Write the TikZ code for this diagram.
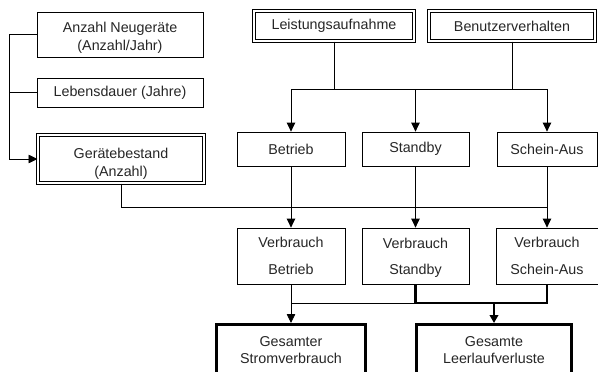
\documentclass[tikz,border=0pt]{standalone}
\usepackage{fontspec}
\setmainfont{Liberation Sans}
\usetikzlibrary{arrows.meta,positioning,calc}

\begin{document}
\begin{tikzpicture}[x=1pt,y=-1pt,
  box/.style={rectangle,draw,line width=0.8pt,align=center,inner sep=0pt,font=\fontsize{14.3}{18.5}\selectfont,text=black!85},
  doublebox/.style={box,double=white,double distance=1.8pt,line width=1pt},
  fatbox/.style={box,line width=2.6pt},
  line/.style={line width=0.8pt},
  fatline/.style={line width=2.2pt},
  edge/.style={line,-{Triangle[width=8.5pt,length=9pt]}},
  fatedge/.style={fatline,-{Triangle[width=8.5pt,length=8pt]}}]
\clip (0,0) rectangle (598,372);

% Eingangsgroessen links
\node (neu)[box,minimum width=166,minimum height=45] at (120,34.5) {\rule{0pt}{17pt}Anzahl Neugeräte\\(Anzahl/Jahr)};
\node (dauer)[box,minimum width=166,minimum height=29] at (120,92.5) {Lebensdauer (Jahre)};
\node (bestand)[doublebox,minimum width=166,minimum height=48] at (121,159) {\rule{0pt}{20pt}Gerätebestand\\(Anzahl)};

% Eingangsgroessen oben
\node (leist)[doublebox,minimum width=160,minimum height=30] at (334,26) {Leistungsaufnahme};
\node (benutzer)[doublebox,minimum width=166,minimum height=30] at (512,26) {Benutzerverhalten};

% Betriebszustaende
\node (betrieb)[box,minimum width=108,minimum height=34] at (291,149) {Betrieb};
\node (standby)[box,minimum width=107,minimum height=34] at (415.5,149) {Standby};
\node (schein)[box,minimum width=100,minimum height=34] at (547,149) {Schein-Aus};

% Verbrauch je Zustand
\node (vbetrieb)[box,minimum width=108,minimum height=56] at (291,256) {Verbrauch\\[8pt]Betrieb};
\node (vstandby)[box,minimum width=107,minimum height=56] at (415.5,256) {\rule{0pt}{13.5pt}Verbrauch\\[8pt]Standby};
\node (vschein)[box,minimum width=102,minimum height=56] at (547,256) {Verbrauch\\[8pt]Schein-Aus};

% Ergebnisse
\node (gstrom)[fatbox,minimum width=149.4,minimum height=52] at (291,350.3) {Gesamter\\[-2pt]Stromverbrauch};
\node (gleer)[fatbox,minimum width=155.4,minimum height=52] at (494,350.3) {Gesamte\\[-2pt]Leerlaufverluste};

\coordinate (oben) at (0,89);
\coordinate (mitte) at (0,207);
\coordinate (unten) at (0,303);

\draw [line] (neu.west) -- ++(-27,0);
\draw [line] (dauer.west) -- ++(-27,0);
\draw [edge] (neu.west) -- ++(-27,0) |- (bestand.west);

\draw [line] (leist) -- (leist |- oben);
\draw [line] (benutzer) -- (benutzer |- oben);
\draw [line] (betrieb |- oben) -- (schein |- oben);
\draw [edge] (betrieb |- oben) -- (betrieb);
\draw [edge] (standby |- oben) -- (standby);
\draw [edge] (schein |- oben) -- (schein);

\draw [line] (bestand) -- (bestand |- mitte) -- (vschein |- mitte);
\draw [edge] (betrieb) -- (vbetrieb);
\draw [edge] (standby) -- (vstandby);
\draw [edge] (schein) -- (vschein);

\draw [line] (vbetrieb |- unten) -- (vschein |- unten);
\draw [edge] (vbetrieb) -- (gstrom);
\draw [fatline] (vstandby) -- (vstandby |- unten) -- (vschein |- unten) -- (vschein);
\draw [fatedge] (gleer |- unten) -- (gleer);
\end{tikzpicture}
\end{document}
